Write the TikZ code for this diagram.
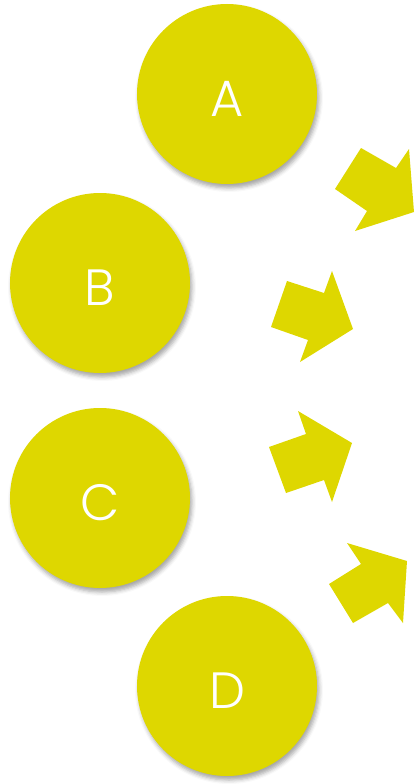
\documentclass[tikz,border=0pt]{standalone}
\usepackage{fontspec}
\setmainfont{Poppins}[UprightFont=* Light]
\usetikzlibrary{shadows.blur}
\definecolor{olive}{RGB}{222,215,0}
\tikzset{
  ball/.style={circle, fill=olive, minimum size=180pt, inner sep=0pt,
    text=white, font=\fontsize{51}{51}\selectfont,
    text height=44pt, text depth=0pt,
    blur shadow={shadow xshift=2pt, shadow yshift=-4pt, shadow blur radius=4pt, shadow opacity=35}},
  blockarrow/.style={fill=olive, draw=none}
}
\begin{document}
\begin{tikzpicture}[x=1pt, y=-1pt]
  \useasboundingbox (0,0) rectangle (417,784);
  % the four circles
  \node[ball] (a) at (227,94) {A};
  \node[ball] (b) at (100,283) {B};
  \node[ball] (c) at (100,498) {C};
  \node[ball] (d) at (227,686) {D};
  % block arrows fanning out to the right
  \fill[blockarrow] (335,189) -- (361,148) -- (396,168) -- (409,149) -- (414,212) -- (355,231) -- (367,211) -- cycle;
  \fill[blockarrow] (271,327) -- (287,281) -- (324,293) -- (332,271) -- (353,329) -- (300,362) -- (308,340) -- cycle;
  \fill[blockarrow] (269,447) -- (306,434) -- (298,411) -- (352,443) -- (332,502) -- (324,480) -- (286,493) -- cycle;
  \fill[blockarrow] (329,584) -- (361,564) -- (347,543) -- (407,561) -- (403,623) -- (388,603) -- (353,623) -- cycle;
\end{tikzpicture}
\end{document}
